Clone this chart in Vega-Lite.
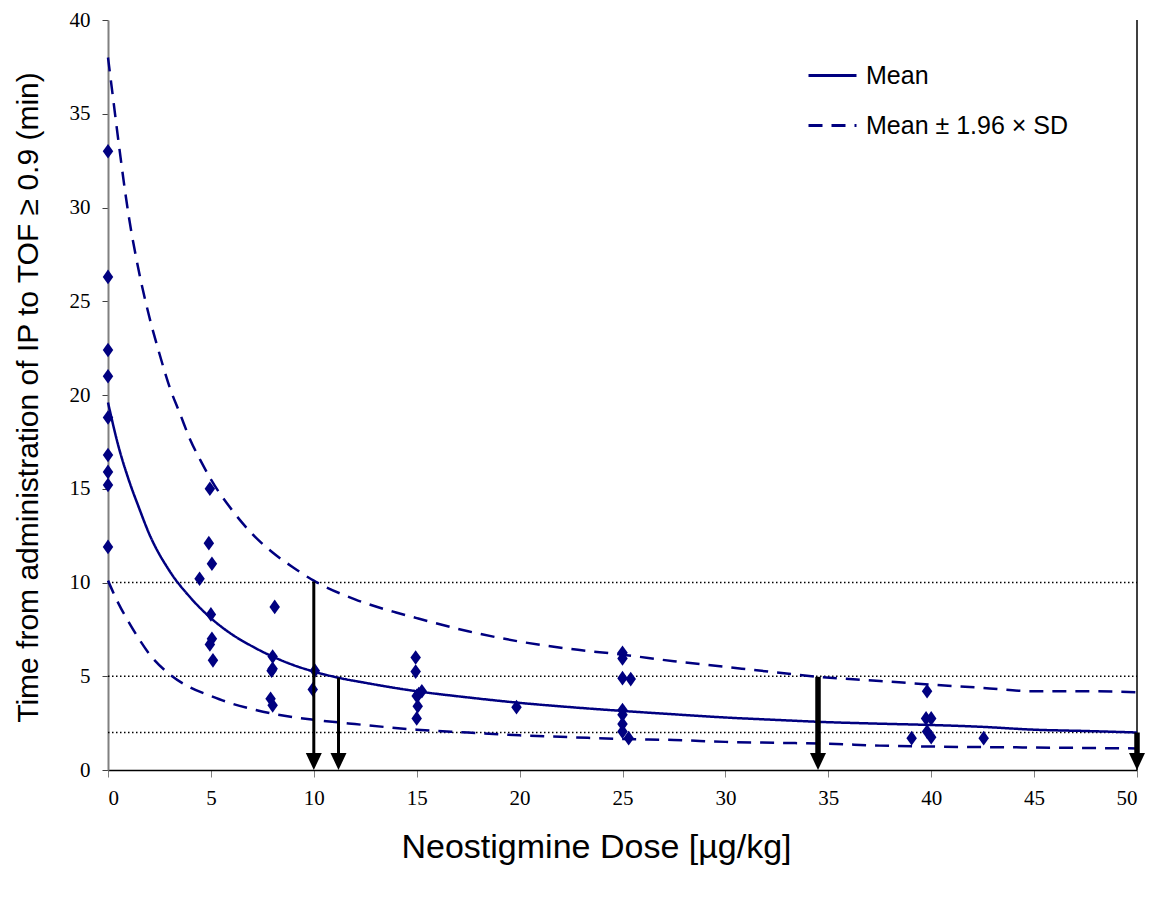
{
  "$schema": "https://vega.github.io/schema/vega-lite/v6.json",
  "width": 1029,
  "height": 750,
  "autosize": {"type": "none"},
  "padding": {"left": 108, "top": 20, "right": 16, "bottom": 128},
  "background": "white",
  "config": {
    "view": {"stroke": null},
    "axis": {"grid": false, "labelFont": "Liberation Serif", "labelFontSize": 21, "labelColor": "black", "titleFont": "Liberation Sans", "titleFontWeight": "normal", "titleColor": "black"}
  },
  "datasets": {
    "points": [
      {"dose": 0, "time": 33.0}, {"dose": 0, "time": 26.3}, {"dose": 0, "time": 22.4}, {"dose": 0, "time": 21.0},
      {"dose": 0, "time": 18.8}, {"dose": 0, "time": 16.8}, {"dose": 0, "time": 15.9}, {"dose": 0, "time": 15.2}, {"dose": 0, "time": 11.9},
      {"dose": 4.95, "time": 15.0}, {"dose": 4.9, "time": 12.1}, {"dose": 5.05, "time": 11.0}, {"dose": 4.45, "time": 10.2},
      {"dose": 5.0, "time": 8.3}, {"dose": 5.05, "time": 7.0}, {"dose": 4.95, "time": 6.7}, {"dose": 5.1, "time": 5.85},
      {"dose": 8.1, "time": 8.7}, {"dose": 8.0, "time": 6.05}, {"dose": 8.0, "time": 5.4}, {"dose": 7.95, "time": 5.3},
      {"dose": 7.9, "time": 3.8}, {"dose": 8.0, "time": 3.45},
      {"dose": 10.05, "time": 5.3}, {"dose": 9.95, "time": 4.3},
      {"dose": 14.95, "time": 6.0}, {"dose": 14.95, "time": 5.25}, {"dose": 15.25, "time": 4.2}, {"dose": 15.0, "time": 3.95},
      {"dose": 15.1, "time": 4.05}, {"dose": 15.05, "time": 3.4}, {"dose": 15.0, "time": 2.75},
      {"dose": 19.85, "time": 3.35},
      {"dose": 25.0, "time": 6.25}, {"dose": 25.0, "time": 5.95}, {"dose": 25.0, "time": 4.9}, {"dose": 25.4, "time": 4.85},
      {"dose": 25.0, "time": 3.2}, {"dose": 25.0, "time": 2.95}, {"dose": 25.0, "time": 2.45}, {"dose": 25.0, "time": 2.05}, {"dose": 25.3, "time": 1.7},
      {"dose": 39.8, "time": 4.2}, {"dose": 39.75, "time": 2.75}, {"dose": 40.0, "time": 2.75}, {"dose": 39.8, "time": 2.05},
      {"dose": 40.0, "time": 1.75}, {"dose": 39.05, "time": 1.7}, {"dose": 42.55, "time": 1.7}
    ],
    "curves": [
      {"curve": "mean", "band": "Mean", "dose": 0, "time": 19.6},
      {"curve": "mean", "band": "Mean", "dose": 0.5, "time": 17.3},
      {"curve": "mean", "band": "Mean", "dose": 1, "time": 15.5},
      {"curve": "mean", "band": "Mean", "dose": 1.5, "time": 14.0},
      {"curve": "mean", "band": "Mean", "dose": 2, "time": 12.6},
      {"curve": "mean", "band": "Mean", "dose": 3, "time": 10.6},
      {"curve": "mean", "band": "Mean", "dose": 4, "time": 9.2},
      {"curve": "mean", "band": "Mean", "dose": 5, "time": 8.1},
      {"curve": "mean", "band": "Mean", "dose": 6, "time": 7.25},
      {"curve": "mean", "band": "Mean", "dose": 7, "time": 6.6},
      {"curve": "mean", "band": "Mean", "dose": 8, "time": 6.05},
      {"curve": "mean", "band": "Mean", "dose": 9, "time": 5.6},
      {"curve": "mean", "band": "Mean", "dose": 10, "time": 5.25},
      {"curve": "mean", "band": "Mean", "dose": 11.2, "time": 4.92},
      {"curve": "mean", "band": "Mean", "dose": 12.5, "time": 4.65},
      {"curve": "mean", "band": "Mean", "dose": 15, "time": 4.2},
      {"curve": "mean", "band": "Mean", "dose": 17.5, "time": 3.87},
      {"curve": "mean", "band": "Mean", "dose": 20, "time": 3.58},
      {"curve": "mean", "band": "Mean", "dose": 22.5, "time": 3.35},
      {"curve": "mean", "band": "Mean", "dose": 25, "time": 3.15},
      {"curve": "mean", "band": "Mean", "dose": 27.5, "time": 2.97},
      {"curve": "mean", "band": "Mean", "dose": 30, "time": 2.8},
      {"curve": "mean", "band": "Mean", "dose": 32.5, "time": 2.67},
      {"curve": "mean", "band": "Mean", "dose": 35, "time": 2.55},
      {"curve": "mean", "band": "Mean", "dose": 37.5, "time": 2.47},
      {"curve": "mean", "band": "Mean", "dose": 40, "time": 2.4},
      {"curve": "mean", "band": "Mean", "dose": 42.5, "time": 2.3},
      {"curve": "mean", "band": "Mean", "dose": 45, "time": 2.15},
      {"curve": "mean", "band": "Mean", "dose": 47.5, "time": 2.08},
      {"curve": "mean", "band": "Mean", "dose": 50, "time": 2.0},
      {"curve": "upper", "band": "Mean ± 1.96 × SD", "dose": 0, "time": 38.0},
      {"curve": "upper", "band": "Mean ± 1.96 × SD", "dose": 0.25, "time": 35.8},
      {"curve": "upper", "band": "Mean ± 1.96 × SD", "dose": 0.5, "time": 33.6},
      {"curve": "upper", "band": "Mean ± 1.96 × SD", "dose": 1, "time": 29.6},
      {"curve": "upper", "band": "Mean ± 1.96 × SD", "dose": 1.5, "time": 26.6},
      {"curve": "upper", "band": "Mean ± 1.96 × SD", "dose": 2, "time": 24.2},
      {"curve": "upper", "band": "Mean ± 1.96 × SD", "dose": 2.5, "time": 22.2},
      {"curve": "upper", "band": "Mean ± 1.96 × SD", "dose": 3, "time": 20.4},
      {"curve": "upper", "band": "Mean ± 1.96 × SD", "dose": 3.5, "time": 19.0},
      {"curve": "upper", "band": "Mean ± 1.96 × SD", "dose": 4, "time": 17.6},
      {"curve": "upper", "band": "Mean ± 1.96 × SD", "dose": 4.5, "time": 16.5},
      {"curve": "upper", "band": "Mean ± 1.96 × SD", "dose": 5, "time": 15.5},
      {"curve": "upper", "band": "Mean ± 1.96 × SD", "dose": 6, "time": 13.9},
      {"curve": "upper", "band": "Mean ± 1.96 × SD", "dose": 7, "time": 12.6},
      {"curve": "upper", "band": "Mean ± 1.96 × SD", "dose": 8, "time": 11.6},
      {"curve": "upper", "band": "Mean ± 1.96 × SD", "dose": 9, "time": 10.8},
      {"curve": "upper", "band": "Mean ± 1.96 × SD", "dose": 10, "time": 10.1},
      {"curve": "upper", "band": "Mean ± 1.96 × SD", "dose": 12, "time": 9.1},
      {"curve": "upper", "band": "Mean ± 1.96 × SD", "dose": 14, "time": 8.4},
      {"curve": "upper", "band": "Mean ± 1.96 × SD", "dose": 15, "time": 8.1},
      {"curve": "upper", "band": "Mean ± 1.96 × SD", "dose": 17.5, "time": 7.4},
      {"curve": "upper", "band": "Mean ± 1.96 × SD", "dose": 20, "time": 6.85},
      {"curve": "upper", "band": "Mean ± 1.96 × SD", "dose": 22.5, "time": 6.45},
      {"curve": "upper", "band": "Mean ± 1.96 × SD", "dose": 25, "time": 6.15},
      {"curve": "upper", "band": "Mean ± 1.96 × SD", "dose": 27.5, "time": 5.8},
      {"curve": "upper", "band": "Mean ± 1.96 × SD", "dose": 30, "time": 5.5},
      {"curve": "upper", "band": "Mean ± 1.96 × SD", "dose": 32.5, "time": 5.2},
      {"curve": "upper", "band": "Mean ± 1.96 × SD", "dose": 34.5, "time": 4.97},
      {"curve": "upper", "band": "Mean ± 1.96 × SD", "dose": 37.5, "time": 4.75},
      {"curve": "upper", "band": "Mean ± 1.96 × SD", "dose": 40, "time": 4.55},
      {"curve": "upper", "band": "Mean ± 1.96 × SD", "dose": 42.5, "time": 4.38},
      {"curve": "upper", "band": "Mean ± 1.96 × SD", "dose": 45, "time": 4.2},
      {"curve": "upper", "band": "Mean ± 1.96 × SD", "dose": 47.5, "time": 4.2},
      {"curve": "upper", "band": "Mean ± 1.96 × SD", "dose": 50, "time": 4.15},
      {"curve": "lower", "band": "Mean ± 1.96 × SD", "dose": 0, "time": 10.1},
      {"curve": "lower", "band": "Mean ± 1.96 × SD", "dose": 0.5, "time": 8.9},
      {"curve": "lower", "band": "Mean ± 1.96 × SD", "dose": 1, "time": 7.9},
      {"curve": "lower", "band": "Mean ± 1.96 × SD", "dose": 1.5, "time": 7.0},
      {"curve": "lower", "band": "Mean ± 1.96 × SD", "dose": 2, "time": 6.2},
      {"curve": "lower", "band": "Mean ± 1.96 × SD", "dose": 3, "time": 5.1},
      {"curve": "lower", "band": "Mean ± 1.96 × SD", "dose": 4, "time": 4.4},
      {"curve": "lower", "band": "Mean ± 1.96 × SD", "dose": 5, "time": 3.95},
      {"curve": "lower", "band": "Mean ± 1.96 × SD", "dose": 6, "time": 3.55},
      {"curve": "lower", "band": "Mean ± 1.96 × SD", "dose": 7, "time": 3.25},
      {"curve": "lower", "band": "Mean ± 1.96 × SD", "dose": 8, "time": 3.0},
      {"curve": "lower", "band": "Mean ± 1.96 × SD", "dose": 9, "time": 2.82},
      {"curve": "lower", "band": "Mean ± 1.96 × SD", "dose": 10, "time": 2.68},
      {"curve": "lower", "band": "Mean ± 1.96 × SD", "dose": 12, "time": 2.45},
      {"curve": "lower", "band": "Mean ± 1.96 × SD", "dose": 15, "time": 2.15},
      {"curve": "lower", "band": "Mean ± 1.96 × SD", "dose": 17.5, "time": 2.0},
      {"curve": "lower", "band": "Mean ± 1.96 × SD", "dose": 20, "time": 1.85},
      {"curve": "lower", "band": "Mean ± 1.96 × SD", "dose": 22.5, "time": 1.75},
      {"curve": "lower", "band": "Mean ± 1.96 × SD", "dose": 25, "time": 1.65},
      {"curve": "lower", "band": "Mean ± 1.96 × SD", "dose": 27.5, "time": 1.6},
      {"curve": "lower", "band": "Mean ± 1.96 × SD", "dose": 30, "time": 1.5},
      {"curve": "lower", "band": "Mean ± 1.96 × SD", "dose": 32.5, "time": 1.45},
      {"curve": "lower", "band": "Mean ± 1.96 × SD", "dose": 35, "time": 1.4},
      {"curve": "lower", "band": "Mean ± 1.96 × SD", "dose": 37.5, "time": 1.3},
      {"curve": "lower", "band": "Mean ± 1.96 × SD", "dose": 40, "time": 1.25},
      {"curve": "lower", "band": "Mean ± 1.96 × SD", "dose": 45, "time": 1.2},
      {"curve": "lower", "band": "Mean ± 1.96 × SD", "dose": 50, "time": 1.15}
    ],
    "refs": [{"level": 10}, {"level": 5}, {"level": 2}],
    "arrows": [
      {"dose": 10, "top": 10.05, "bottom": 0.6, "weight": "thin"},
      {"dose": 11.2, "top": 4.92, "bottom": 0.6, "weight": "thin"},
      {"dose": 34.5, "top": 4.97, "bottom": 0.6, "weight": "thick"},
      {"dose": 50, "top": 2.0, "bottom": 0.6, "weight": "thick"}
    ],
    "frame": [{"dose": 50}]
  },
  "layer": [
    {
      "data": {"name": "refs"},
      "mark": {"type": "rule", "color": "black", "strokeWidth": 1.5, "strokeDash": [1.5, 2.5]},
      "encoding": {
        "y": {
          "field": "level", "type": "quantitative", "scale": {"domain": [0, 40]},
          "title": "Time from administration of IP to TOF ≥ 0.9 (min)",
          "axis": {"values": [0, 5, 10, 15, 20, 25, 30, 35, 40], "domainColor": "#808080", "domainWidth": 2, "tickColor": "#404040", "tickSize": 6, "labelPadding": 12, "titleFontSize": 30, "titleX": -80, "titleY": 377, "titleBaseline": "middle", "titleAngle": -90}
        },
        "x": {
          "datum": 0, "type": "quantitative", "scale": {"domain": [0, 50]},
          "title": "Neostigmine Dose [µg/kg]",
          "axis": {"values": [0, 5, 10, 15, 20, 25, 30, 35, 40, 45, 50], "domainColor": "black", "domainWidth": 1.5, "tickColor": "#808080", "tickSize": 7, "labelPadding": 10, "titleFontSize": 34, "titleX": 488, "titleY": 77, "titleBaseline": "middle"}
        },
        "x2": {"datum": 50}
      }
    },
    {
      "data": {"name": "frame"},
      "mark": {"type": "rule", "color": "black", "strokeWidth": 1.5},
      "encoding": {"x": {"field": "dose", "type": "quantitative", "title": "Neostigmine Dose [µg/kg]"}}
    },
    {
      "data": {"name": "curves"},
      "mark": {"type": "line", "color": "#000080", "strokeWidth": 2.5, "interpolate": "monotone"},
      "encoding": {
        "x": {"field": "dose", "type": "quantitative", "title": "Neostigmine Dose [µg/kg]"},
        "y": {"field": "time", "type": "quantitative", "title": "Time from administration of IP to TOF ≥ 0.9 (min)"},
        "detail": {"field": "curve"},
        "strokeDash": {
          "field": "band", "type": "nominal",
          "scale": {"domain": ["Mean", "Mean ± 1.96 × SD"], "range": [[1, 0], [14, 9]]},
          "legend": {
            "title": null, "orient": "none", "legendX": 699, "legendY": 30,
            "symbolType": "stroke", "symbolSize": 2304, "symbolStrokeWidth": 3, "symbolStrokeColor": "#000080",
            "labelFont": "Liberation Sans", "labelFontSize": 25, "labelColor": "black", "labelOffset": 8, "labelLimit": 400,
            "rowPadding": 11, "padding": 0
          }
        }
      }
    },
    {
      "data": {"name": "points"},
      "mark": {"type": "point", "shape": "M0,-1.4L1,0L0,1.4L-1,0Z", "filled": true, "color": "#000080", "size": 110, "opacity": 1},
      "encoding": {
        "x": {"field": "dose", "type": "quantitative", "title": "Neostigmine Dose [µg/kg]"},
        "y": {"field": "time", "type": "quantitative", "title": "Time from administration of IP to TOF ≥ 0.9 (min)"}
      }
    },
    {
      "data": {"name": "arrows"},
      "mark": {"type": "rule", "color": "black"},
      "encoding": {
        "x": {"field": "dose", "type": "quantitative", "title": "Neostigmine Dose [µg/kg]"},
        "y": {"field": "top", "type": "quantitative", "title": "Time from administration of IP to TOF ≥ 0.9 (min)"},
        "y2": {"field": "bottom"},
        "strokeWidth": {"field": "weight", "type": "nominal", "scale": {"domain": ["thin", "thick"], "range": [3, 5.5]}, "legend": null}
      }
    },
    {
      "data": {"name": "arrows"},
      "mark": {"type": "point", "shape": "M-1.6,-3.4L1.6,-3.4L0,0Z", "filled": true, "color": "black", "size": 100, "opacity": 1},
      "encoding": {
        "x": {"field": "dose", "type": "quantitative", "title": "Neostigmine Dose [µg/kg]"},
        "y": {"datum": 0, "type": "quantitative"}
      }
    }
  ],
  "resolve": {"scale": {"strokeWidth": "independent"}},
  "encoding": {}
}
